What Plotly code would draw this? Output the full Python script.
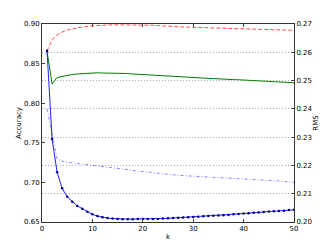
import plotly.graph_objects as go

k = list(range(1, 51))

acc_red = [0.8659, 0.8798, 0.8861, 0.8899, 0.8924, 0.8939, 0.8952, 0.8962, 0.8971, 0.8977,
           0.8982, 0.8986, 0.8987, 0.8990, 0.8990, 0.8990, 0.8990, 0.8990, 0.8990, 0.8990,
           0.8987, 0.8984, 0.8980, 0.8975, 0.8971, 0.8967, 0.8965, 0.8962, 0.8960, 0.8957,
           0.8955, 0.8952, 0.8949, 0.8947, 0.8946, 0.8944, 0.8943, 0.8942, 0.8941, 0.8939,
           0.8937, 0.8936, 0.8934, 0.8932, 0.8931, 0.8928, 0.8927, 0.8924, 0.8923, 0.8920]

acc_green = [0.8659, 0.8242, 0.8325, 0.8340, 0.8352, 0.8362, 0.8369, 0.8375, 0.8381, 0.8381,
             0.8384, 0.8381, 0.8381, 0.8378, 0.8375, 0.8378, 0.8375, 0.8369, 0.8365, 0.8359,
             0.8352, 0.8348, 0.8346, 0.8343, 0.8340, 0.8337, 0.8333, 0.8331, 0.8327, 0.8323,
             0.8319, 0.8317, 0.8314, 0.8311, 0.8306, 0.8303, 0.8301, 0.8298, 0.8296, 0.8293,
             0.8289, 0.8287, 0.8283, 0.8280, 0.8277, 0.8273, 0.8269, 0.8265, 0.8261, 0.8258]

rms_solid = [0.2605, 0.2293, 0.2176, 0.2119, 0.2089, 0.2072, 0.2057, 0.2047, 0.2036, 0.2027,
             0.2021, 0.2017, 0.2014, 0.2012, 0.2011, 0.2010, 0.2010, 0.2010, 0.2011, 0.2011,
             0.2011, 0.2011, 0.2011, 0.2012, 0.2013, 0.2014, 0.2015, 0.2016, 0.2017, 0.2018,
             0.2019, 0.2020, 0.2021, 0.2022, 0.2023, 0.2024, 0.2025, 0.2027, 0.2028, 0.2030,
             0.2031, 0.2033, 0.2034, 0.2035, 0.2037, 0.2038, 0.2039, 0.2040, 0.2042, 0.2043]

rms_dashdot = [0.2400, 0.2315, 0.2222, 0.2215, 0.2211, 0.2209, 0.2207, 0.2205, 0.2203, 0.2201,
               0.2199, 0.2197, 0.2195, 0.2192, 0.2190, 0.2187, 0.2185, 0.2182, 0.2180, 0.2177,
               0.2175, 0.2173, 0.2171, 0.2169, 0.2167, 0.2166, 0.2165, 0.2164, 0.2163, 0.2162,
               0.2161, 0.2160, 0.2160, 0.2159, 0.2158, 0.2158, 0.2157, 0.2156, 0.2155, 0.2154,
               0.2153, 0.2151, 0.2150, 0.2149, 0.2147, 0.2146, 0.2145, 0.2143, 0.2142, 0.2140]

x_ticks = [0, 10, 20, 30, 40, 50]
acc_ticks = [0.65, 0.70, 0.75, 0.80, 0.85, 0.90]
rms_ticks = [0.20, 0.21, 0.22, 0.23, 0.24, 0.25, 0.26, 0.27]

fig = go.Figure()
fig.add_trace(go.Scatter(x=k, y=rms_dashdot, yaxis="y2", mode="lines",
                         line=dict(color="rgba(80,80,255,0.7)", width=1, dash="3px,2px,1px,2px")))
fig.add_trace(go.Scatter(x=k, y=acc_red, mode="lines",
                         line=dict(color="rgba(255,0,0,0.7)", width=1, dash="4px,2px")))
fig.add_trace(go.Scatter(x=k, y=acc_green, mode="lines",
                         line=dict(color="#008000", width=1)))
fig.add_trace(go.Scatter(x=k, y=rms_solid, yaxis="y2", mode="lines+markers",
                         line=dict(color="#2020ff", width=1),
                         marker=dict(color="#000080", size=2.5)))

font = dict(family="DejaVu Sans", size=7, color="black")
fig.update_layout(
    width=327, height=247,
    margin=dict(l=42, r=33, t=24, b=25, autoexpand=False),
    paper_bgcolor="white", plot_bgcolor="white",
    showlegend=False,
    font=font,
    xaxis=dict(range=[0, 50], tickvals=x_ticks, ticks="inside", ticklen=3,
               showline=True, linecolor="#333", linewidth=1, mirror="ticks",
               showgrid=False, zeroline=False,
               title=dict(text="k", font=font, standoff=1)),
    yaxis=dict(range=[0.65, 0.90], tickvals=acc_ticks, tickformat=".2f",
               ticks="inside", ticklen=3, showline=True, linecolor="#333", linewidth=1,
               mirror=True, showgrid=False, zeroline=False,
               title=dict(text="Accuracy", font=font, standoff=1)),
    yaxis2=dict(range=[0.20, 0.27], tickvals=rms_ticks, tickformat=".2f",
                overlaying="y", side="right", ticks="inside", ticklen=3,
                showline=True, linecolor="#333", linewidth=1,
                showgrid=True, gridcolor="#aaa", griddash="1px,2px", gridwidth=1,
                zeroline=False, automargin=False,
                title=dict(text="RMS", font=font, standoff=1)),
)

fig.write_html("out.html", config={"displayModeBar": False},
               post_script="document.body.style.margin='0';document.body.style.padding='0';")
